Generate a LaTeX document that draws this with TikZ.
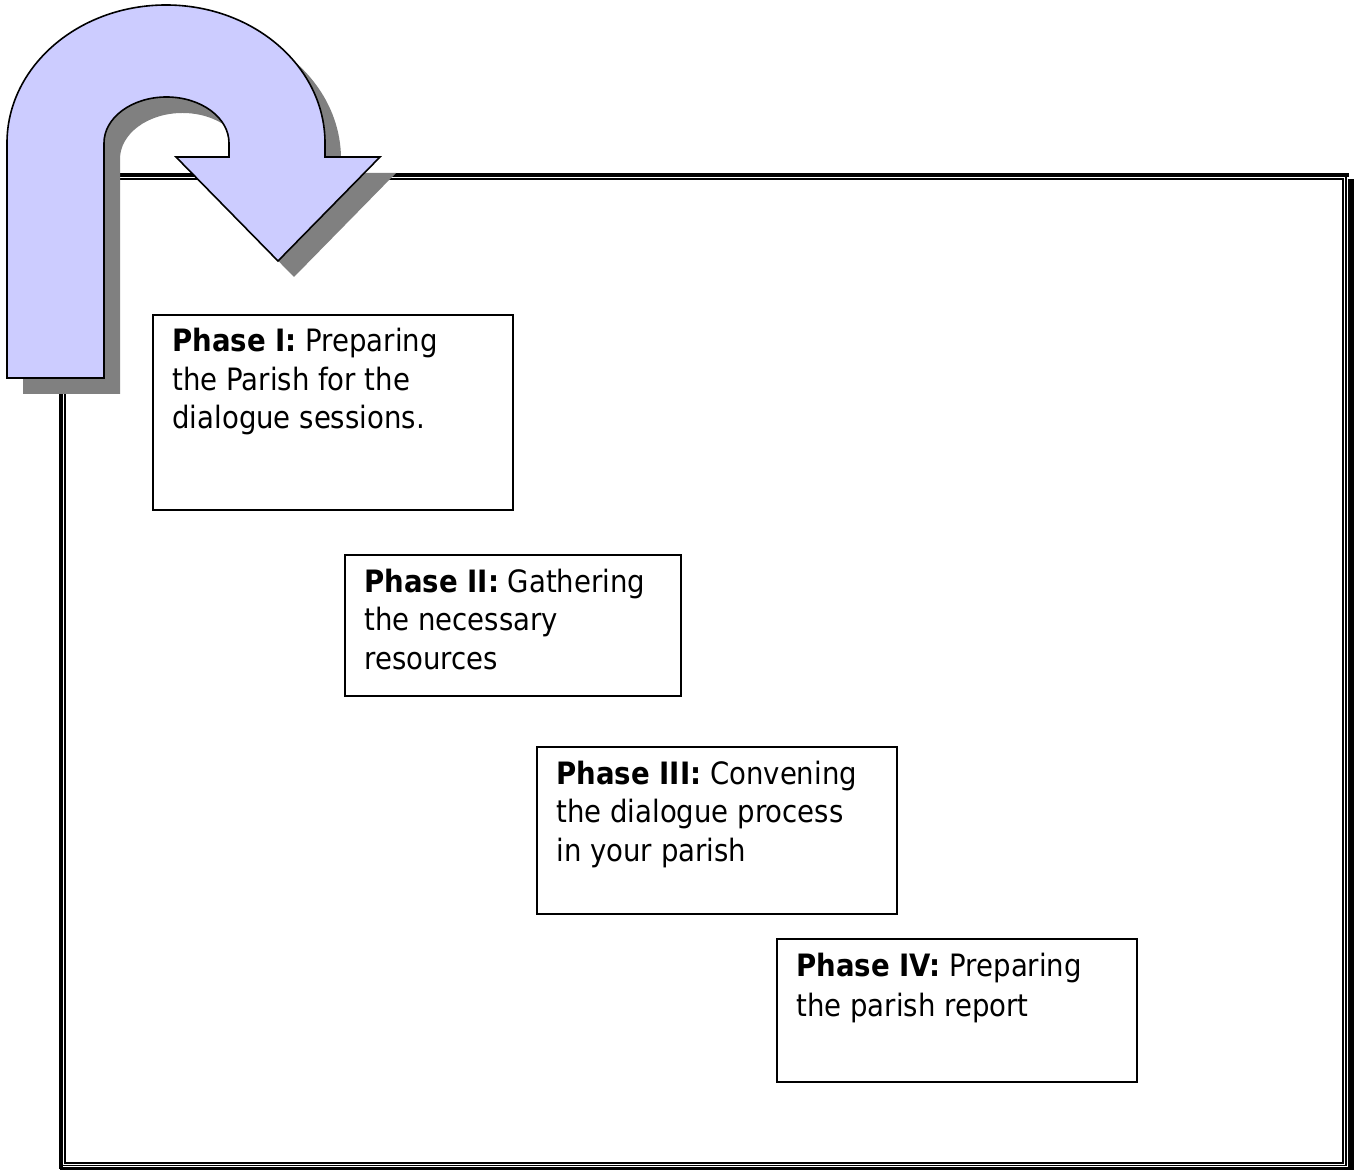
\documentclass[tikz,border=0pt]{standalone}
\usepackage{fontspec}
\setmainfont{DejaVu Sans}[FakeStretch=0.895]
\definecolor{arrowfill}{HTML}{CCCCFF}
\definecolor{shadowgray}{HTML}{808080}
\newcommand{\myuturnpath}{(7,378) -- (7,143) arc[start angle=180, end angle=360, x radius=159, y radius=138] -- (325,157) -- (380,157) -- (278,261) -- (176,157) -- (229,157) -- (229,143) arc[start angle=0, end angle=-180, x radius=62.5, y radius=46] -- (104,378) -- cycle}
\begin{document}
\begin{tikzpicture}[x=0.5pt,y=-0.5pt,
  phasebox/.style={draw, line width=1pt, fill=white, anchor=north west, inner sep=0pt},
  phaseline/.style={anchor=base west, inner sep=0pt, font=\fontsize{15.4}{19}\selectfont},
  thickrule/.style={line width=2pt},
  thinrule/.style={line width=0.75pt}]
\useasboundingbox (0,0) rectangle (1354,1170);
% frame
\draw[thickrule] (61,173) -- (61,1169);
\draw[thickrule] (59,175) -- (1349,175);
\draw[thinrule] (1346,177) -- (1346,1166);
\draw[thinrule] (61,1165.5) -- (1346.4,1165.5);
\draw[thinrule] (65,179) rectangle (1343,1163);
\fill (1348,179) rectangle (1354,1170);
\fill (60,1167) rectangle (1354,1170);
% boxes
\node[phasebox, minimum width=180pt, minimum height=97.5pt] (b1) at (152,314) {};
\node[phasebox, minimum width=168pt, minimum height=70.5pt] (b2) at (344,554) {};
\node[phasebox, minimum width=180pt, minimum height=83.5pt] (b3) at (536,746) {};
\node[phasebox, minimum width=180pt, minimum height=71.5pt] (b4) at (776,938) {};
% texts
\node[phaseline] (t1a) at (172,352) {\textbf{Phase I:} Preparing};
\node[phaseline] (t1b) at (172,390.5) {the Parish for the};
\node[phaseline] (t1c) at (172,429) {dialogue sessions.};
\node[phaseline] (t2a) at (364,592) {\textbf{Phase II:} Gathering};
\node[phaseline] (t2b) at (364,630.5) {the necessary};
\node[phaseline] (t2c) at (364,669) {resources};
\node[phaseline] (t3a) at (556,784) {\textbf{Phase III:} Convening};
\node[phaseline] (t3b) at (556,822.5) {the dialogue process};
\node[phaseline] (t3c) at (556,861) {in your parish};
\node[phaseline] (t4a) at (796,976) {\textbf{Phase IV:} Preparing};
\node[phaseline] (t4b) at (796,1016) {the parish report};
% U-turn arrow with shadow
\begin{scope}[shift={(16,16)}]
\fill[shadowgray] \myuturnpath;
\end{scope}
\filldraw[fill=arrowfill, draw=black, line width=0.8pt, line join=miter] \myuturnpath;
\end{tikzpicture}
\end{document}
